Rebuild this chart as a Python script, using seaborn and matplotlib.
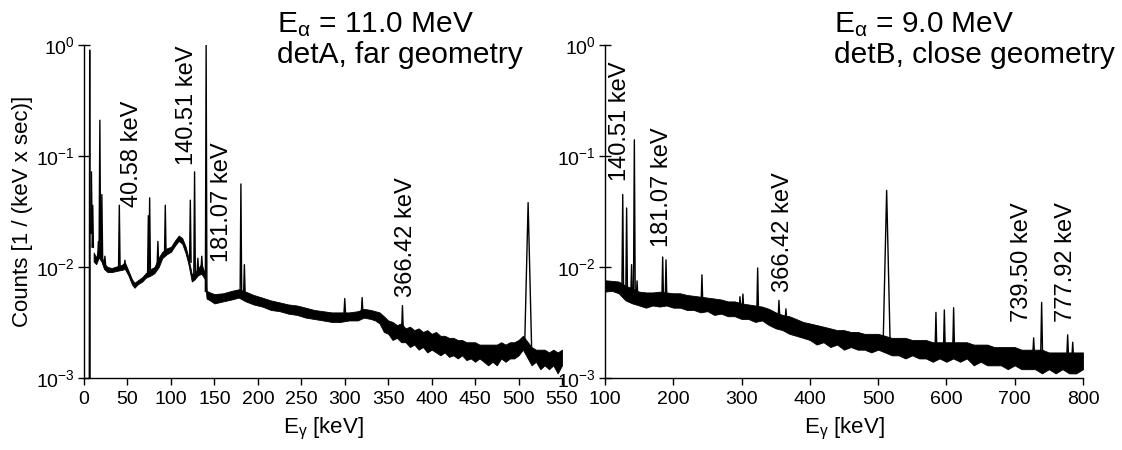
import numpy as np
import pandas as pd
import seaborn as sns
import matplotlib.pyplot as plt
from matplotlib.ticker import MultipleLocator, LogLocator

sns.set_style("white")
plt.rcParams["font.family"] = ["Liberation Sans", "DejaVu Sans"]
plt.rcParams["mathtext.fontset"] = "custom"
plt.rcParams["mathtext.rm"] = "Liberation Sans"
plt.rcParams["mathtext.it"] = "Liberation Sans:italic"
plt.rcParams["axes.unicode_minus"] = False
for k in ["text.color", "axes.labelcolor", "xtick.color", "ytick.color", "axes.edgecolor"]:
    plt.rcParams[k] = "black"

# ---- detA, E_alpha = 11.0 MeV : continuum band (energy, lower, upper) ----
eA = [11, 14, 17, 20, 23, 27, 32, 37, 43, 47, 51, 55, 58, 62, 67, 71, 77, 81, 86, 90,
      95, 100, 105, 109, 113, 117, 120, 124, 127, 131, 135, 139,
      141, 145, 150, 160, 170, 178, 186, 195, 205, 215, 225, 235, 245, 255, 265, 275,
      285, 295, 305, 315, 322, 330, 335,
      340, 345, 350, 355, 360, 365, 370, 375, 380, 385, 390, 395, 400, 405, 410, 415,
      420, 425, 430, 435, 440, 445, 450, 455, 460, 465, 470, 475, 480, 485, 490, 495,
      500, 505, 515, 520, 525, 530, 535, 540, 545, 550]
loA = [0.0112, 0.0106, 0.0122, 0.0112, 0.0096, 0.009, 0.009, 0.0092, 0.0094, 0.0096,
       0.0084, 0.007, 0.0065, 0.007, 0.0074, 0.008, 0.0084, 0.0088, 0.01, 0.012,
       0.013, 0.0137, 0.0157, 0.0172, 0.0162, 0.0132, 0.0107, 0.0074, 0.0077, 0.0084,
       0.0087, 0.0078,
       0.0052, 0.005, 0.0047, 0.0049, 0.0051, 0.0053, 0.0049, 0.0046, 0.0044, 0.0041,
       0.004, 0.0038, 0.0037, 0.0035, 0.0034, 0.0033, 0.0032, 0.0032, 0.0033, 0.0033,
       0.0035, 0.0034, 0.0033,
       0.0031, 0.0026, 0.0025, 0.0022, 0.0023, 0.0021, 0.0021, 0.0019, 0.002, 0.0018,
       0.0019, 0.0017, 0.0018, 0.0017, 0.0016, 0.0017, 0.00155, 0.0016, 0.0015, 0.0016,
       0.00145, 0.0015, 0.0014, 0.0015, 0.0014, 0.0013, 0.0014, 0.0013, 0.0015, 0.0014,
       0.0015, 0.0015, 0.0016, 0.0018, 0.0013, 0.0014, 0.0012, 0.0013, 0.0012, 0.0013,
       0.0011, 0.0013]
hiA = [0.0135, 0.0122, 0.0155, 0.0128, 0.0108, 0.01, 0.0098, 0.0101, 0.0104, 0.011,
       0.0093, 0.0078, 0.0072, 0.0076, 0.0081, 0.0088, 0.0096, 0.01, 0.0122, 0.0137,
       0.0147, 0.0152, 0.0175, 0.0192, 0.0182, 0.0152, 0.0122, 0.0086, 0.0088, 0.0096,
       0.0107, 0.0088,
       0.0061, 0.0059, 0.0057, 0.0058, 0.0061, 0.0063, 0.006, 0.0056, 0.0053, 0.005,
       0.0048, 0.0046, 0.0045, 0.0043, 0.0041, 0.004, 0.0039, 0.0039, 0.0039, 0.004,
       0.0042, 0.0041, 0.004,
       0.0039, 0.0036, 0.0033, 0.0032, 0.003, 0.0031, 0.0028, 0.0029, 0.0027, 0.0028,
       0.0026, 0.0027, 0.0025, 0.0026, 0.0024, 0.0024, 0.0023, 0.0023, 0.0022, 0.0022,
       0.0021, 0.0021, 0.0021, 0.002, 0.002, 0.002, 0.002, 0.002, 0.0021, 0.002,
       0.0021, 0.0021, 0.0022, 0.0024, 0.0019, 0.0018, 0.0018, 0.0018, 0.0017, 0.0018,
       0.0017, 0.0018]

# detA lines: position, foot level, top level, half width [keV]
pkA_e = [6.5, 8.5, 10, 16.5, 18.2, 20.5, 24, 40.6, 47, 74, 75.5, 85, 93.5, 122.3,
         127.2, 131, 135.5, 140.5, 180.5, 184.5, 300, 320, 366.4, 511]
pkA_base = [0.0005, 0.02, 0.015, 0.012, 0.013, 0.012, 0.0105, 0.0098, 0.0098, 0.0085,
            0.0095, 0.0105, 0.013, 0.011, 0.0085, 0.009, 0.0095, 0.006, 0.0058, 0.0057,
            0.0038, 0.0039, 0.0026, 0.0019]
pkA_top = [0.9, 0.072, 0.036, 0.017, 0.21, 0.045, 0.0125, 0.036, 0.0115, 0.029,
           0.042, 0.017, 0.036, 0.04, 0.072, 0.012, 0.0125, 1.0, 0.056, 0.0105,
           0.0052, 0.0053, 0.0045, 0.038]
pkA_hw = [0.5, 0.8, 0.8, 0.8, 0.9, 0.9, 0.8, 0.9, 0.8, 0.9, 0.9, 0.9, 0.9, 0.9,
          0.9, 0.9, 0.9, 0.9, 0.9, 0.9, 0.9, 0.9, 1.0, 4.0]

# ---- detB, E_alpha = 9.0 MeV : continuum band every 10 keV ----
eB = [100, 110, 120, 130, 140, 150, 160, 170, 180, 190,
      200, 210, 220, 230, 240, 250, 260, 270, 280, 290,
      300, 310, 320, 330, 340, 350, 360, 370, 380, 390,
      400, 410, 420, 430, 440, 450, 460, 470, 480, 490,
      500, 510, 520, 530, 540, 550, 560, 570, 580, 590,
      600, 610, 620, 630, 640, 650, 660, 670, 680, 690,
      700, 710, 720, 730, 740, 750, 760, 770, 780, 790, 800]
loB = [0.006, 0.0061, 0.0058, 0.005, 0.0047, 0.0045, 0.0043, 0.0045, 0.0044, 0.0045,
       0.0043, 0.0043, 0.0041, 0.0041, 0.0039, 0.004, 0.0037, 0.0038, 0.0036, 0.0036,
       0.0034, 0.0034, 0.0032, 0.0033, 0.003, 0.0028, 0.0027, 0.0025, 0.0024, 0.0023,
       0.0022, 0.002, 0.0021, 0.0019, 0.002, 0.0018, 0.0019, 0.0018, 0.0018, 0.0017,
       0.0018, 0.0017, 0.0016, 0.0016, 0.0015, 0.0016, 0.0015, 0.0015, 0.0014, 0.0015,
       0.0014, 0.0015, 0.0014, 0.0015, 0.0013, 0.0014, 0.0013, 0.0013, 0.0013, 0.0012,
       0.0013, 0.0012, 0.0012, 0.0012, 0.0011, 0.0012, 0.0011, 0.0012, 0.0011, 0.0011,
       0.0012]
hiB = [0.0076, 0.0075, 0.0074, 0.0068, 0.0064, 0.006, 0.0059, 0.0059, 0.006, 0.0059,
       0.0058, 0.0058, 0.0056, 0.0055, 0.0054, 0.0053, 0.0052, 0.0051, 0.0049, 0.0049,
       0.0047, 0.0046, 0.0045, 0.0044, 0.0042, 0.0039, 0.0037, 0.0036, 0.0034, 0.0032,
       0.0031, 0.003, 0.0029, 0.0028, 0.0027, 0.0027, 0.0026, 0.0026, 0.0025, 0.0025,
       0.0025, 0.0024, 0.0023, 0.0023, 0.0023, 0.0022, 0.0022, 0.0022, 0.0021, 0.0021,
       0.0021, 0.0021, 0.0021, 0.0021, 0.002, 0.002, 0.002, 0.0019, 0.0019, 0.0019,
       0.0019, 0.0018, 0.0018, 0.0018, 0.0018, 0.0017, 0.0017, 0.0017, 0.0017, 0.0017,
       0.0017]

pkB_e = [126, 131.7, 139, 143, 147, 184.5, 189.4, 242, 297.7, 302, 323.6, 354.8, 365,
         512.5, 584.7, 597, 610.6, 727.8, 739.5, 777.6, 785]
pkB_base = [0.0065, 0.006, 0.0058, 0.0055, 0.0052, 0.0052, 0.0052, 0.0048, 0.0041,
            0.0041, 0.0038, 0.0034, 0.0033, 0.0022, 0.0018, 0.0018, 0.0018, 0.0016,
            0.0016, 0.0015, 0.0015]
pkB_top = [0.045, 0.034, 0.0105, 0.14, 0.0075, 0.0123, 0.0116, 0.0085, 0.0054, 0.0057,
           0.0098, 0.005, 0.0042, 0.049, 0.0039, 0.0041, 0.0043, 0.0023, 0.0048,
           0.00245, 0.0021]
pkB_hw = [1.2, 1.2, 1.2, 1.3, 1.2, 1.2, 1.2, 1.2, 1.2, 1.2, 1.3, 1.3, 1.2, 5.0, 1.3,
          1.3, 1.3, 1.3, 1.4, 1.4, 1.3]

# annotations: text, x, bottom of text
labA = ["40.58 keV", "140.51 keV", "181.07 keV", "366.42 keV"]
labA_x = [55, 118, 159, 370]
labA_y = [0.035, 0.083, 0.011, 0.0054]
labB = ["140.51 keV", "181.07 keV", "366.42 keV", "739.50 keV", "777.92 keV"]
labB_x = [122, 183.5, 360, 711, 775]
labB_y = [0.06, 0.015, 0.006, 0.0032, 0.0032]


def peak_frame(e, base, top, hw):
    rows = []
    for i, (p, b, t, h) in enumerate(zip(e, base, top, hw)):
        rows += [(i, p - h, b), (i, p, t), (i, p + h, b)]
    return pd.DataFrame(rows, columns=["peak", "E", "counts"])


fig = plt.figure(figsize=(11.22, 4.5), dpi=100)
axA = fig.add_axes([0.0749, 0.16, 0.426, 0.74])
axB = fig.add_axes([0.5392, 0.16, 0.426, 0.74])

panels = [
    (axA, eA, loA, hiA, peak_frame(pkA_e, pkA_base, pkA_top, pkA_hw), (0, 550), 50, 25,
     labA, labA_x, labA_y, "E$_\\mathregular{\\alpha}$ = 11.0 MeV", "detA, far geometry", 0.404),
    (axB, eB, loB, hiB, peak_frame(pkB_e, pkB_base, pkB_top, pkB_hw), (100, 800), 100, 50,
     labB, labB_x, labB_y, "E$_\\mathregular{\\alpha}$ = 9.0 MeV", "detB, close geometry", 0.479),
]

for ax, e, lo, hi, peaks, xlim, major, minor, labs, lx, ly, t1, t2, tx in panels:
    ax.set_yscale("log")
    ax.fill_between(e, lo, hi, color="black", lw=0.6)
    sns.lineplot(data=peaks, x="E", y="counts", units="peak", estimator=None,
                 color="black", lw=1.0, ax=ax, legend=False)
    ax.set_xlim(*xlim)
    ax.set_ylim(1e-3, 1)
    ax.xaxis.set_major_locator(MultipleLocator(major))
    ax.xaxis.set_minor_locator(MultipleLocator(minor))
    ax.yaxis.set_major_locator(LogLocator(base=10))
    ax.yaxis.set_minor_locator(LogLocator(base=10, subs=np.arange(2, 10)))
    ax.tick_params(axis="x", which="major", direction="out", length=5, width=1,
                   labelsize=14, pad=4)
    ax.tick_params(axis="x", which="minor", direction="out", length=3, width=1)
    ax.tick_params(axis="y", which="major", direction="inout", length=9, width=1,
                   labelsize=14, pad=2)
    ax.tick_params(axis="y", which="minor", direction="in", length=3, width=1)
    ax.tick_params(bottom=True, left=True)
    for s in ["top", "right"]:
        ax.spines[s].set_visible(False)
    for s in ["left", "bottom"]:
        ax.spines[s].set_linewidth(1)
    ax.set_xlabel("E$_\\mathregular{\\gamma}$ [keV]", fontsize=16, labelpad=6)
    ax.set_ylabel("")
    for s, x, y in zip(labs, lx, ly):
        ax.text(x, y, s, rotation=90, ha="center", va="bottom", fontsize=17)
    ax.text(tx, 1.105, t1, transform=ax.transAxes, ha="left", va="top", fontsize=21.5)
    ax.text(tx, 0.945, t2, transform=ax.transAxes, ha="left", va="baseline", fontsize=21.5)

axA.set_ylabel("Counts [1 / (keV x sec)]", fontsize=16, labelpad=2)

fig.savefig("out.png", dpi=100)
